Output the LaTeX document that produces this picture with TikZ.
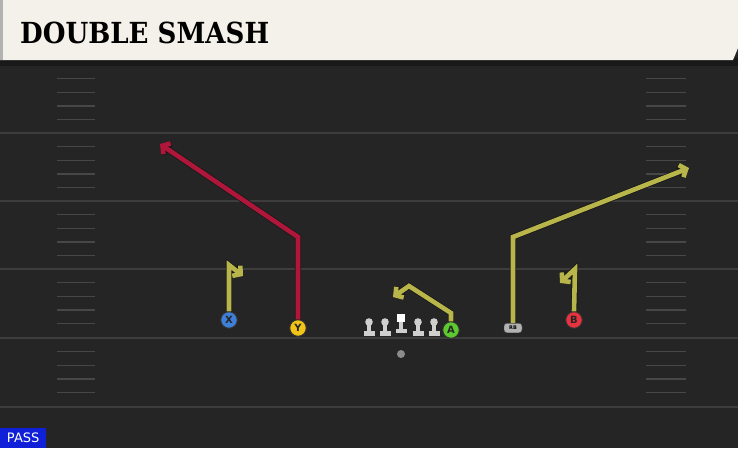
\documentclass[tikz,border=0pt]{standalone}
\usepackage{fontspec}
\setmainfont{DejaVu Serif}
\setsansfont{DejaVu Sans}
\usetikzlibrary{arrows.meta}

\definecolor{field}{HTML}{252525}
\definecolor{yardline}{HTML}{3D3D3D}
\definecolor{banner}{HTML}{F4F1EA}
\definecolor{routey}{HTML}{B8B64A}
\definecolor{router}{HTML}{B0163A}
\definecolor{linegrey}{HTML}{CFCFCF}

\tikzset{
  player/.style = {circle, draw=black!80, line width=0.9pt, minimum size=16.5pt, inner sep=0pt,
    font=\sffamily\bfseries\fontsize{10}{10}\selectfont, text=black!85},
  route/.style = {line width=4.6pt, line join=miter, -{Straight Barb[length=5.5pt,width=13pt]},
    preaction={draw=black!90, line width=6.2pt}},
  hashmark/.style = {draw=yardline!95!white, line width=1.4pt}
}

\begin{document}
\begin{tikzpicture}[x=1pt, y=-1pt]
\useasboundingbox (0,0) rectangle (738,448);
\fill[field] (0,0) rectangle (738,448);

% yard lines and hashes
\foreach \y in {65,133,201,269,338,407}
	\draw[yardline, line width=1.6pt] (0,\y)--(738,\y);
\foreach \y in {65,133,201,269,338}
	\foreach \k in {1,2,3,4} {
		\draw[hashmark] (57,\y+13.6*\k)--(95,\y+13.6*\k);
		\draw[hashmark] (646,\y+13.6*\k)--(686,\y+13.6*\k);
	}

% title banner
\fill[black!90] (0,58) rectangle (738,66);
\fill[banner] (0,0)--(738,0)--(738,48)--(733,60)--(0,60)--cycle;
\fill[black!30] (0,0) rectangle (3,60);
\node[anchor = base west, inner sep=0pt] (title) at (20,43)
	{\scalebox{0.9}[1]{\fontsize{29}{29}\selectfont\bfseries DOUBLE SMASH}};

% line
\foreach \x in {369,385,418,434} {
	\fill[linegrey] (\x-2,322) rectangle (\x+2,332);
	\fill[linegrey] (\x-5.5,331) rectangle (\x+5.5,336);
	\fill[linegrey] (\x,322) circle (3.8);
}
\fill[linegrey] (399,322) rectangle (403,330);
\fill[linegrey] (395.5,329) rectangle (406.5,333);
\fill[white] (397,314) rectangle (405,322);
\fill[black!45] (401,354) circle (4);

% players
\node[player, fill={rgb,255:red,61;green,127;blue,217}] (X) at (229,320) {X};
\node[player, fill={rgb,255:red,242;green,196;blue,24}] (Y) at (298,328) {Y};
\node[player, fill={rgb,255:red,92;green,201;blue,46}] (A) at (451,330) {A};
\node[player, fill={rgb,255:red,232;green,50;blue,63}] (B) at (574,320) {B};
\node[draw=black!70, fill=black!30, rounded corners=3pt, minimum width=18pt, minimum height=9.5pt,
	inner sep=0pt, font=\sffamily\bfseries\fontsize{5}{5}\selectfont] (RB) at (513,328) {RB};

% routes
\coordinate (Xturn) at (229,265);
\coordinate (Xend) at (243,276);
\coordinate (Yturn) at (298,237);
\coordinate (Yend) at (160,144);
\coordinate (Aturn) at (451,313);
\coordinate (Abreak) at (409,286);
\coordinate (Aend) at (393,297);
\coordinate (RBturn) at (513,237);
\coordinate (RBend) at (689,168);
\coordinate (Bturn) at (575,269);
\coordinate (Bend) at (560,283);

\draw[route, routey] (X.north)--(Xturn)--(Xend);
\draw[route, router] (Y.north)--(Yturn)--(Yend);
\draw[route, routey] (A.north)--(Aturn)--(Abreak)--(Aend);
\draw[route, routey] (RB.north)--(RBturn)--(RBend);
\draw[route, routey] (B.north)--(Bturn)--(Bend);

% play type
\node[fill={rgb,255:red,16;green,32;blue,216}, text=white, anchor=south west, minimum width=46pt,
	minimum height=20pt, inner sep=0pt, font=\sffamily\fontsize{13}{13}\selectfont] (pass) at (0,448) {PASS};
\end{tikzpicture}
\end{document}
